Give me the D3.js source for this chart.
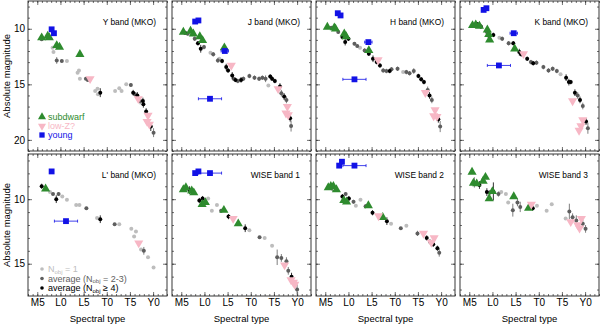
<!DOCTYPE html>
<html>
<head>
<meta charset="utf-8">
<script src="https://d3js.org/d3.v7.min.js"></script>
<style>
body { margin: 0; background: #fff; }
svg { font-family: "Liberation Sans", Arial, sans-serif; }
</style>
</head>
<body>
<svg id="chart" width="600" height="329"></svg>
<script>
// ---- data: [spectral type (M0 = 0), absolute magnitude, error] ----
var Y_n1 = [[8.3,11.7],[8.5,12.1],[11.4,12.9],[13.7,13.95],[14.0,13.75],[14.2,14.5],[17.5,15.6],[18.0,15.4],[18.1,15.9],[21.8,15.6],[22.7,15.35],[23.2,15.6],[24.2,15.0]];
var Y_avg = [[5.95,10.95,0.1],[9.2,12.85,0.3],[10.3,12.9,0.15],[15.5,14.5,0.1],[15.9,14.6,0.1],[25.2,15.05,0.15],[26.1,15.9,0.2],[27.2,16.5,0.3],[30.1,19.35,0.4]];
var Y_avg4 = [[18.6,15.75,0.4],[25.7,15.75,0.25],[26.6,16.0,0.3],[27.8,16.5,0.3],[27.9,16.8,0.3],[28.5,17.45,0.3],[29.5,18.8,0.4]];
var Y_sd = [[5.95,10.8],[7.25,10.65],[7.6,10.8],[9.2,11.5],[9.8,11.65],[14.2,12.3]];
var Y_lowz = [[16.4,14.5],[26.8,16.3],[28.9,17.8],[28.7,18.35],[29.2,18.6]];
var Y_young = [[8.1,10.05,0],[8.6,10.4,0]];

var J_n1 = [[11.3,12.15],[13.2,12.7],[23.8,15.1]];
var J_avg = [[6.4,10.45,0.15],[7.9,10.9,0.2],[9.9,11.65,0.2],[11.9,12.3,0.2],[12.9,12.85,0.2],[16.3,14.5,0.15],[17.2,14.7,0.2],[18.4,14.5,0.2],[19.7,14.25,0.2],[20.8,14.4,0.2],[21.8,14.5,0.2],[22.5,14.4,0.2],[23.2,14.5,0.3],[26.6,15.8,0.3],[27.7,16.4,0.3],[28.7,18.75,0.5]];
var J_avg4 = [[5.8,10.35,0.15],[8.6,11.3,0.2],[9.2,11.8,0.35],[13.8,12.9,0.2],[14.7,13.45,0.3],[15.1,13.75,0.2],[16.0,14.2,0.3],[16.7,14.6,0.2],[17.9,14.6,0.25],[24.2,14.3,0.2],[24.6,14.5,0.2],[25.2,14.7,0.2],[26.3,15.2,0.3],[27.2,16.1,0.3],[28.5,18.05,0.3]];
var J_sd = [[5.45,10.3],[7.0,10.2],[7.6,10.45],[9.0,10.7],[9.6,11.05],[14.3,11.7]];
var J_lowz = [[15.8,13.3],[25.9,15.4],[27.9,17.0],[27.6,17.6],[28.1,17.75]];
var J_young = [[8.0,9.35,0],[8.7,9.25,0],[14.4,12.0,0.8],[11.2,16.3,2.5]];

var H_n1 = [[12.5,11.7],[21.8,13.9]];
var H_avg = [[6.3,9.9,0.15],[7.8,10.3,0.15],[11.3,11.35,0.15],[11.9,11.55,0.15],[13.5,11.95,0.2],[17.5,13.75,0.2],[18.2,13.8,0.2],[19.3,13.65,0.2],[20.6,13.6,0.2],[22.5,13.9,0.2],[23.2,14.0,0.2],[24.1,13.8,0.25],[27.1,15.5,0.3],[28.0,16.4,0.3],[29.8,18.8,0.5]];
var H_avg4 = [[8.7,10.75,0.2],[9.3,11.2,0.3],[10.0,10.9,0.2],[14.4,12.25,0.2],[15.3,12.7,0.3],[16.1,13.0,0.2],[16.8,13.3,0.2],[18.9,13.8,0.2],[25.1,14.25,0.2],[25.7,14.55,0.2],[26.3,14.8,0.2],[27.5,16.0,0.3],[29.4,18.15,0.3]];
var H_sd = [[5.45,9.85],[6.95,9.9],[7.2,10.0],[9.1,10.45],[9.5,10.7],[14.4,11.95]];
var H_lowz = [[16.4,12.8],[26.6,15.75],[28.7,17.3],[28.4,17.85],[29.1,17.9]];
var H_young = [[7.7,8.6,0],[8.3,8.8,0],[14.3,11.2,0.8],[11.3,14.55,2.5]];

var K_n1 = [[11.5,10.8],[24.7,14.1]];
var K_avg = [[8.8,10.3,0.15],[12.1,10.9,0.2],[13.5,11.3,0.2],[18.3,13.0,0.2],[19.5,13.05,0.2],[21.0,13.45,0.2],[22.1,13.75,0.2],[23.0,13.6,0.2],[23.9,13.8,0.2],[28.4,16.0,0.3],[29.5,16.95,0.3],[30.6,18.95,0.5]];
var K_avg4 = [[6.8,9.6,0.2],[7.5,9.8,0.2],[9.3,10.65,0.3],[10.2,10.55,0.2],[14.5,11.3,0.2],[15.8,12.1,0.3],[16.2,12.3,0.2],[17.5,12.7,0.2],[18.8,13.1,0.2],[25.9,14.4,0.3],[26.5,14.8,0.3],[26.9,14.8,0.2],[27.8,15.75,0.3],[28.9,16.4,0.3],[30.2,18.35,0.3]];
var K_sd = [[5.7,9.7],[6.4,9.65],[7.2,9.75],[8.9,10.1],[9.2,10.5],[9.4,11.0],[14.8,11.8]];
var K_lowz = [[16.7,12.25],[27.3,16.5],[29.5,18.2],[29.1,18.75],[28.7,19.15]];
var K_young = [[8.1,8.3,0],[8.7,8.15,0],[14.6,10.4,0.8],[11.4,13.3,2.5]];

var L_n1 = [[7.75,9.45],[10.4,9.8],[11.4,10.05],[13.4,10.45],[14.1,10.45],[17.9,11.45],[22.7,11.95],[25.3,12.3],[26.3,12.5],[25.9,12.9],[27.4,13.9],[28.9,14.5],[30.1,15.3]];
var L_avg = [[8.4,9.6,0.1],[9.6,9.6,0.15],[15.6,10.7,0.1],[21.7,11.95,0.1],[28.0,14.0,0.3]];
var L_avg4 = [[5.95,9.0,0.2],[9.1,10.0,0.3],[18.6,11.55,0.3]];
var L_sd = [[6.8,9.2]];
var L_lowz = [[26.9,13.4]];
var L_young = [[8.1,7.85,0],[11.2,11.7,2.5]];

var W1_n1 = [[10.8,9.95],[11.6,10.9],[12.7,10.45],[19.7,12.4],[23.0,13.0],[24.6,13.6]];
var W1_avg = [[7.5,9.5,0.15],[10.1,10.2,0.15],[13.6,10.9,0.15],[21.9,12.95,0.1],[25.7,14.5,0.6],[26.6,14.55,0.3],[27.7,14.8,0.3],[28.1,15.55,0.3],[30.0,17.0,0.4]];
var W1_avg4 = [[6.8,9.3,0.3],[8.9,10.1,0.2],[9.6,9.95,0.2],[15.2,11.35,0.2],[18.8,12.25,0.3],[28.8,16.0,0.3]];
var W1_sd = [[5.45,9.25],[6.0,9.1],[7.25,9.35],[7.7,9.5],[9.5,10.4],[10.2,10.25],[14.2,10.85],[17.3,11.9]];
var W1_lowz = [[16.2,11.5],[27.3,15.1],[28.7,16.25],[29.2,16.45],[29.5,16.6]];
var W1_young = [[8.0,7.98,0],[8.7,7.85,0],[11.2,7.98,2.5]];

var W2_n1 = [[11.6,10.5],[12.6,10.05],[19.2,11.9],[22.5,12.05]];
var W2_avg = [[9.4,9.6,0.15],[11.1,10.2,0.15],[13.7,10.55,0.15],[21.3,12.25,0.1],[24.9,12.65,0.2],[27.6,13.3,0.2],[29.6,14.15,0.3]];
var W2_avg4 = [[6.5,9.05,0.3],[8.7,9.8,0.2],[10.1,9.95,0.2],[15.2,11.05,0.2],[18.3,11.7,0.3],[26.9,13.0,0.2],[28.3,13.5,0.2],[29.2,13.8,0.2]];
var W2_sd = [[5.65,9.1],[6.2,9.0],[6.75,9.0],[7.4,9.25],[9.0,10.1],[9.6,10.2],[14.3,10.5],[17.4,11.4]];
var W2_lowz = [[16.5,11.3],[26.2,12.65],[28.5,13.0],[27.9,13.35]];
var W2_young = [[8.0,7.4,0],[8.6,7.1,0],[11.3,7.4,2.5]];

var W3_n1 = [[11.9,9.45],[12.9,9.6],[13.4,10.25],[19.6,10.5],[21.7,10.9],[22.8,10.4],[25.8,11.5]];
var W3_avg = [[6.1,8.7,0.4],[9.4,9.5,0.2],[11.3,9.6,0.2],[14.4,10.85,0.5],[15.4,10.25,0.3],[16.0,10.6,0.4],[26.6,10.95,0.6],[27.3,11.4,0.3],[28.1,11.65,0.4],[29.5,11.9,0.3],[30.1,12.3,0.3]];
var W3_avg4 = [[7.2,8.9,0.3],[8.8,9.45,0.3],[10.2,9.4,0.7],[18.7,10.7,0.2]];
var W3_sd = [[5.6,7.9],[5.9,8.75],[6.6,8.8],[8.0,8.6],[8.5,8.3],[10.0,9.4],[9.3,9.95],[14.6,9.8],[17.8,10.7]];
var W3_lowz = [[18.4,10.4],[26.9,11.75],[29.2,11.5],[28.8,12.25],[28.4,12.0]];
var W3_young = [];

var titles = ['Y band (MKO)','J band (MKO)','H band (MKO)','K band (MKO)',"L' band (MKO)",'WISE band 1','WISE band 2','WISE band 3'];
var sptTicks = [5,10,15,20,25,30];
var sptLabels = ['M5','L0','L5','T0','T5','Y0'];
var magTicks = [[10,15,20],[10,15]];

var panels = [
	[Y_n1,Y_avg,Y_avg4,Y_sd,Y_lowz,Y_young],
	[J_n1,J_avg,J_avg4,J_sd,J_lowz,J_young],
	[H_n1,H_avg,H_avg4,H_sd,H_lowz,H_young],
	[K_n1,K_avg,K_avg4,K_sd,K_lowz,K_young],
	[L_n1,L_avg,L_avg4,L_sd,L_lowz,L_young],
	[W1_n1,W1_avg,W1_avg4,W1_sd,W1_lowz,W1_young],
	[W2_n1,W2_avg,W2_avg4,W2_sd,W2_lowz,W2_young],
	[W3_n1,W3_avg,W3_avg4,W3_sd,W3_lowz,W3_young]
];

// ---- layout ----
var colX = [28, 172, 316, 460], pw = 139;
var rowY = [[1, 151], [154, 296]];
var yDom = [[7.5, 21], [6.5, 17.5]];
var cLight = '#bdbdbd', cDark = '#5e5e5e', cBlack = '#000',
	cGreen = '#2e8b2e', cPink = '#f7b7c5', cBlue = '#1212e6';

var svg = d3.select('#chart');

panels.forEach(function(p, i) {
	var col = i % 4, row = Math.floor(i / 4);
	var x = d3.scaleLinear([3, 33], [colX[col], colX[col] + pw]);
	var y = d3.scaleLinear(yDom[row], rowY[row]);
	var g = svg.append('g');
	var x0 = colX[col], x1 = colX[col] + pw, y0 = rowY[row][0], y1 = rowY[row][1];

	// ticks, all inward
	var minorX = d3.range(3, 34), minorY = d3.range(Math.ceil(yDom[row][0]), yDom[row][1] + 0.01);
	function addAxis(ax, tr, vals, size, labels) {
		var a = g.append('g').attr('transform', tr)
			.call(ax.tickValues(vals).tickSize(-size).tickSizeOuter(0).tickPadding(3)
				.tickFormat(labels ? labels : ''));
		a.select('.domain').remove();
		a.selectAll('line').attr('stroke', '#333').attr('stroke-width', 0.7);
		a.selectAll('text').attr('font-size', 10).attr('fill', '#000')
			.attr('font-family', '"Liberation Sans", Arial, sans-serif');
	}
	addAxis(d3.axisBottom(x), 'translate(0,' + y1 + ')', minorX, 2, null);
	addAxis(d3.axisTop(x), 'translate(0,' + y0 + ')', minorX, 2, null);
	addAxis(d3.axisBottom(x), 'translate(0,' + y1 + ')', sptTicks, 4,
		row == 1 ? function(d, k) { return sptLabels[k]; } : null);
	addAxis(d3.axisTop(x), 'translate(0,' + y0 + ')', sptTicks, 4, null);
	addAxis(d3.axisLeft(y), 'translate(' + x0 + ',0)', minorY, 2, null);
	addAxis(d3.axisRight(y), 'translate(' + x1 + ',0)', minorY, 2, null);
	addAxis(d3.axisLeft(y), 'translate(' + x0 + ',0)', magTicks[row], 4,
		col == 0 ? function(d) { return d; } : null);
	addAxis(d3.axisRight(y), 'translate(' + x1 + ',0)', magTicks[row], 4, null);

	g.append('rect').attr('x', x0).attr('y', y0).attr('width', pw).attr('height', y1 - y0)
		.attr('fill', 'none').attr('stroke', '#222').attr('stroke-width', 0.9);

	g.append('text').attr('x', x1 - 11).attr('y', y0 + 24).attr('text-anchor', 'end')
		.attr('font-size', 8.4).text(titles[i]);

	// error bars + dots
	[[p[0], cLight], [p[1], cDark], [p[2], cBlack]].forEach(function(s) {
		s[0].forEach(function(d) {
			if (d[2]) {
				g.append('line').attr('x1', x(d[0])).attr('x2', x(d[0]))
					.attr('y1', y(d[1] - d[2])).attr('y2', y(d[1] + d[2]))
					.attr('stroke', s[1]).attr('stroke-width', 0.8);
			}
		});
		g.selectAll(null).data(s[0]).enter().append('circle')
			.attr('cx', function(d) { return x(d[0]); })
			.attr('cy', function(d) { return y(d[1]); })
			.attr('r', 2).attr('fill', s[1]);
	});

	// subdwarfs
	g.selectAll(null).data(p[3]).enter().append('path')
		.attr('d', d3.symbol(d3.symbolTriangle, 36))
		.attr('transform', function(d) { return 'translate(' + x(d[0]) + ',' + y(d[1]) + ')'; })
		.attr('fill', cGreen);
	// low-Z
	g.selectAll(null).data(p[4]).enter().append('path')
		.attr('d', d3.symbol(d3.symbolTriangle, 36))
		.attr('transform', function(d) { return 'translate(' + x(d[0]) + ',' + y(d[1]) + ') rotate(180)'; })
		.attr('fill', cPink);
	// young, with spectral-type errors
	p[5].forEach(function(d) {
		if (d[2]) {
			g.append('line').attr('x1', x(d[0] - d[2])).attr('x2', x(d[0] + d[2]))
				.attr('y1', y(d[1])).attr('y2', y(d[1])).attr('stroke', cBlue).attr('stroke-width', 0.8);
			[d[0] - d[2], d[0] + d[2]].forEach(function(e) {
				g.append('line').attr('x1', x(e)).attr('x2', x(e))
					.attr('y1', y(d[1]) - 1.5).attr('y2', y(d[1]) + 1.5)
					.attr('stroke', cBlue).attr('stroke-width', 0.8);
			});
		}
	});
	g.selectAll(null).data(p[5]).enter().append('path')
		.attr('d', d3.symbol(d3.symbolSquare, 34))
		.attr('transform', function(d) { return 'translate(' + x(d[0]) + ',' + y(d[1]) + ')'; })
		.attr('fill', cBlue);

	if (row == 1) {
		svg.append('text').attr('x', (x0 + x1) / 2).attr('y', 322).attr('text-anchor', 'middle')
			.attr('font-size', 9.5).text('Spectral type');
	}
});

// y axis titles
[76, 225].forEach(function(cy) {
	svg.append('text').attr('transform', 'translate(10,' + cy + ') rotate(-90)')
		.attr('text-anchor', 'middle').attr('font-size', 9.5).text('Absolute magnitude');
});

// legend, top-left panel
var leg1 = [['subdwarf', cGreen, 0], ['low-Z?', cPink, 180], ['young', cBlue, -1]];
leg1.forEach(function(l, k) {
	var ly = 117 + k * 9;
	svg.append('path')
		.attr('d', d3.symbol(l[2] < 0 ? d3.symbolSquare : d3.symbolTriangle, 28))
		.attr('transform', 'translate(42,' + ly + ') rotate(' + Math.max(l[2], 0) + ')')
		.attr('fill', l[1]);
	svg.append('text').attr('x', 48).attr('y', ly + 3.3).attr('font-size', 9)
		.attr('fill', l[1]).text(l[0]);
});

// legend, bottom-left panel
var leg2 = [['', ' = 1', cLight], ['average (', ' = 2-3)', cDark], ['average (', ' \u2265 4)', cBlack]];
leg2.forEach(function(l, k) {
	var ly = 269 + k * 9.5;
	svg.append('circle').attr('cx', 42).attr('cy', ly).attr('r', 1.8).attr('fill', l[2]);
	var t = svg.append('text').attr('x', 48).attr('y', ly + 3.3).attr('font-size', 9).attr('fill', l[2]);
	t.append('tspan').text(l[0] + 'N');
	t.append('tspan').attr('font-size', 6).attr('dy', 1.5).text('obj');
	t.append('tspan').attr('dy', -1.5).text(l[1]);
});
</script>
</body>
</html>
